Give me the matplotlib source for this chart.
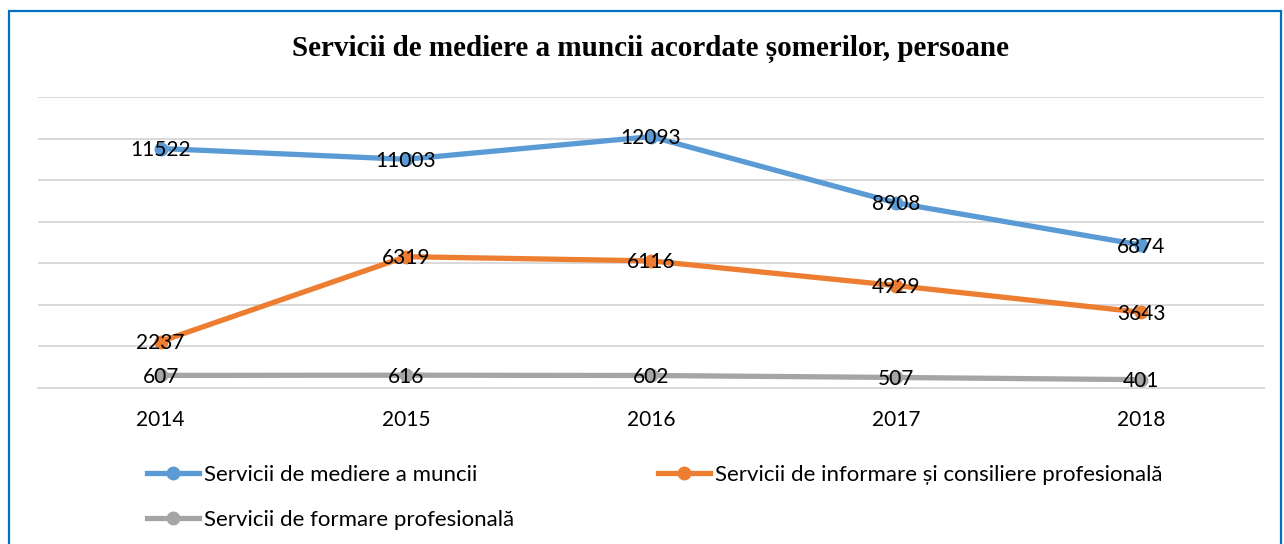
import matplotlib.pyplot as plt
from matplotlib.patches import Rectangle
from matplotlib.lines import Line2D

years = ['2014', '2015', '2016', '2017', '2018']
mediere = [11522, 11003, 12093, 8908, 6874]
informare = [2237, 6319, 6116, 4929, 3643]
formare = [607, 616, 602, 507, 401]

names = ['Servicii de mediere a muncii',
         'Servicii de informare și consiliere profesională',
         'Servicii de formare profesională']
colors = ['#5B9BD5', '#ED7D31', '#A5A5A5']

plt.rcParams['font.family'] = ['Lato', 'DejaVu Sans']

W, H = 1284, 544
fig = plt.figure(figsize=(W / 100, H / 100), dpi=100)

# chenarul albastru
fig.patches.append(Rectangle((9 / W, -0.1), (1281 - 9) / W, 1.1 - 11 / H,
                             transform=fig.transFigure, fill=False,
                             edgecolor='#0070C0', linewidth=1.6))

ax = fig.add_axes([38 / W, (H - 388) / H, (1264 - 38) / W, (388 - 97) / H])

x = list(range(len(years)))
series = [mediere, informare, formare]
for vals, name, c in zip(series, names, colors):
    ax.plot(x, vals, color=c, linewidth=3.8, marker='o', markersize=9,
            label=name, solid_capstyle='round', zorder=3)
    for xi, v in zip(x, vals):
        ax.annotate(str(v), (xi, v), xytext=(0, -1), textcoords='offset points',
                    ha='center', va='center', fontsize=15, color='black', zorder=4)

ax.set_xlim(-0.5, 4.5)
ax.set_ylim(0, 14000)
ax.set_yticks(range(0, 14001, 2000))
ax.set_yticklabels([])
ax.set_xticks(x)
ax.set_xticklabels(years, fontsize=15)
ax.tick_params(axis='both', length=0)
ax.tick_params(axis='x', pad=16)
ax.grid(axis='y', color='#D9D9D9', linewidth=1.4)
ax.set_axisbelow(True)
for s in ax.spines.values():
    s.set_visible(False)
ax.spines['bottom'].set_visible(True)
ax.spines['bottom'].set_color('#D9D9D9')
ax.spines['bottom'].set_linewidth(1.4)

fig.text(651 / W, 1 - 49 / H, 'Servicii de mediere a muncii acordate șomerilor, persoane',
         ha='center', va='center', fontsize=21, fontweight='bold',
         family=['Liberation Serif', 'DejaVu Serif'])

handles = [Line2D([], [], color=c, linewidth=3.8, marker='o', markersize=9)
           for c in colors]
order = [0, 2, 1]
fig.legend([handles[i] for i in order], [names[i] for i in order],
           ncol=2, loc='upper left', bbox_to_anchor=(138 / W, 1 - 456 / H),
           frameon=False, fontsize=16, handlelength=2.35, handletextpad=0.2,
           columnspacing=6.5, labelspacing=1.13, borderaxespad=0)

fig.savefig('out.png', dpi=100)
